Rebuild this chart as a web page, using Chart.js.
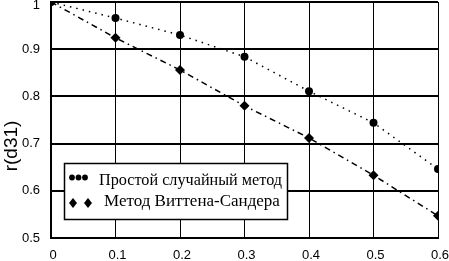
<!DOCTYPE html>
<html>
<head>
<meta charset="utf-8">
<script src="https://cdn.jsdelivr.net/npm/chart.js@4"></script>
<style>
  html, body { margin: 0; padding: 0; background: #fff; }
  #wrap { width: 449px; height: 261px; position: relative; }
</style>
</head>
<body>
<div id="wrap"><canvas id="chart"></canvas></div>
<script>
const xValues = [0, 0.1, 0.2, 0.3, 0.4, 0.5, 0.6];
const simpleRandom = [1.0, 0.966, 0.93, 0.884, 0.811, 0.744, 0.646];
const wittenSander = [1.0, 0.924, 0.856, 0.78, 0.712, 0.633, 0.547];
const seriesNames = ["Простой случайный метод", "Метод Виттена-Сандера"];
const yTitle = "r(d31)";

const tickFamily = "'Liberation Sans Narrow', 'Liberation Sans', Arial";

function toPoints(ys) {
  return xValues.map((x, i) => ({ x: x, y: ys[i] }));
}

// y title sits a bit below the middle, so draw it by hand
const yTitlePlugin = {
  id: "yTitlePlugin",
  afterDraw(chart) {
    const ctx = chart.ctx;
    ctx.save();
    ctx.translate(12, 146);
    ctx.rotate(-Math.PI / 2);
    ctx.font = "19px 'Liberation Sans', Arial";
    ctx.fillStyle = "#000";
    ctx.textAlign = "center";
    ctx.textBaseline = "middle";
    ctx.fillText(yTitle, 0, 0);
    ctx.restore();
  },
};

// squeeze a text line into a given width (reference font is a bit narrow)
function fitText(ctx, text, x, y, width) {
  const w = ctx.measureText(text).width;
  ctx.save();
  ctx.translate(x, y);
  ctx.scale(Math.min(1, width / w), 1);
  ctx.fillText(text, 0, 0);
  ctx.restore();
}

// draws the boxed legend inside the plot area
const boxLegend = {
  id: "boxLegend",
  afterDraw(chart) {
    const ctx = chart.ctx;
    ctx.save();
    ctx.fillStyle = "#fff";
    ctx.fillRect(64, 163, 224, 57);
    ctx.strokeStyle = "#000";
    ctx.lineWidth = 1.5;
    ctx.strokeRect(64.5, 163.5, 223, 56);

    ctx.fillStyle = "#000";
    // row 1: three dots
    [72, 78.5, 85].forEach((x) => {
      ctx.beginPath();
      ctx.arc(x, 177.5, 2.9, 0, Math.PI * 2);
      ctx.fill();
    });
    // row 2: two diamonds
    [73, 88].forEach((x) => {
      ctx.beginPath();
      ctx.moveTo(x, 198);
      ctx.lineTo(x + 4, 203);
      ctx.lineTo(x, 208);
      ctx.lineTo(x - 4, 203);
      ctx.closePath();
      ctx.fill();
    });

    ctx.font = "17px 'Liberation Serif', 'Times New Roman', serif";
    ctx.textBaseline = "alphabetic";
    ctx.textAlign = "left";
    fitText(ctx, chart.data.datasets[0].label, 99, 185, 183);
    fitText(ctx, chart.data.datasets[1].label, 104, 205.5, 178);
    ctx.restore();
  },
};

const ctx = document.getElementById("chart").getContext("2d");

new Chart(ctx, {
  type: "line",
  data: {
    datasets: [
      {
        label: seriesNames[0],
        data: toPoints(simpleRandom),
        borderColor: "#000",
        backgroundColor: "#000",
        borderWidth: 1.5,
        borderDash: [1.5, 5],
        pointStyle: "circle",
        pointRadius: 4,
        pointBorderWidth: 0,
        tension: 0,
      },
      {
        label: seriesNames[1],
        data: toPoints(wittenSander),
        borderColor: "#000",
        backgroundColor: "#000",
        borderWidth: 1.5,
        borderDash: [6, 4, 1.5, 4],
        pointStyle: "rectRot",
        pointRadius: 5,
        pointBorderWidth: 0,
        tension: 0,
      },
    ],
  },
  options: {
    responsive: true,
    maintainAspectRatio: false,
    animation: false,
    layout: { autoPadding: false, padding: { top: 2, right: 11, left: 0, bottom: 0 } },
    plugins: {
      legend: { display: false },
      tooltip: { enabled: false },
    },
    scales: {
      x: {
        type: "linear",
        min: 0,
        max: 0.6,
        afterFit: (scale) => {
          scale.height = 23;
          scale.paddingLeft = 0;
          scale.paddingRight = 0;
        },
        grid: { color: "#000", lineWidth: 1, drawTicks: false },
        border: { color: "#000", width: 2 },
        ticks: {
          stepSize: 0.1,
          color: "#000",
          font: { family: tickFamily, size: 13 },
          padding: 10,
          labelOffset: 2,
          maxRotation: 0,
          callback: (v) => String(Math.round(v * 10) / 10),
        },
      },
      y: {
        min: 0.5,
        max: 1,
        afterFit: (scale) => {
          scale.width = 51;
          scale.paddingTop = 0;
          scale.paddingBottom = 0;
        },
        grid: { color: "#000", lineWidth: 2, drawTicks: false },
        border: { color: "#000", width: 2 },
        ticks: {
          stepSize: 0.1,
          color: "#000",
          // top label is pushed down a little so it is not cut off
          font: (c) => ({
            family: tickFamily,
            size: 13,
            lineHeight: c.tick && c.tick.value === 1 ? 0.6 : 1.2,
          }),
          padding: 11,
          callback: (v) => (v === 1 ? ["", "1"] : String(Math.round(v * 10) / 10)),
        },
      },
    },
  },
  plugins: [yTitlePlugin, boxLegend],
});
</script>
</body>
</html>
